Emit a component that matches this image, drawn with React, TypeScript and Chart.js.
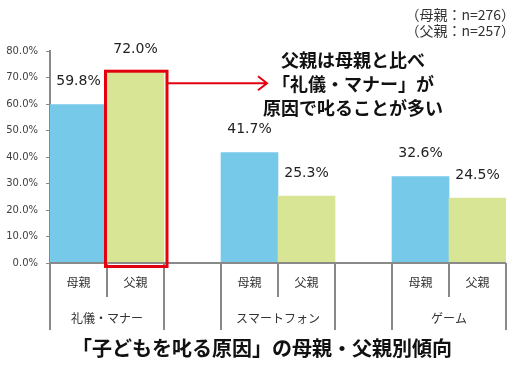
import { useEffect, useRef } from 'react';
import { Chart, registerables } from 'chart.js';

Chart.register(...registerables);

const groups = ['礼儀・マナー', 'スマートフォン', 'ゲーム'];
const seriesNames = ['母親', '父親'];
const motherValues = [59.8, 41.7, 32.6];
const fatherValues = [72.0, 25.3, 24.5];
const yMin = 0;
const yMax = 80;
const yStep = 10;
const sampleNotes = ['（母親：n=276）', '（父親：n=257）'];
const titleText = '「子どもを叱る原因」の母親・父親別傾向';
const calloutLines = ['父親は母親と比べ', '「礼儀・マナー」が', '原因で叱ることが多い'];
const highlightGroup = 0;

const BLUE = '#77C9EA';
const GREEN = '#D7E595';
const RED = '#E3000F';
const AXIS = '#898989';
const JP = '"Noto Sans CJK JP", "Noto Sans", sans-serif';
const NUM = '"DejaVu Sans", sans-serif';

type Slot = { label: string; value: number | null; color: string; group: number; series: number };

function buildSlots(): Slot[] {
  const slots: Slot[] = [];
  groups.forEach((_, g) => {
    slots.push({ label: seriesNames[0], value: motherValues[g], color: BLUE, group: g, series: 0 });
    slots.push({ label: seriesNames[1], value: fatherValues[g], color: GREEN, group: g, series: 1 });
    if (g < groups.length - 1) slots.push({ label: '', value: null, color: 'rgba(0,0,0,0)', group: g, series: -1 });
  });
  return slots;
}

export default function App() {
  const ref = useRef<HTMLCanvasElement | null>(null);

  useEffect(() => {
    if (!ref.current) return;
    const slots = buildSlots();

    const overlay = {
      id: 'overlay',
      afterDraw(chart: any) {
        const ctx = chart.ctx as CanvasRenderingContext2D;
        const x = chart.scales.x;
        const area = chart.chartArea;
        const n = slots.length;
        const slotW = (x.right - x.left) / n;
        const base = area.bottom;
        const meta = chart.getDatasetMeta(0);
        ctx.save();

        // x axis line
        ctx.strokeStyle = AXIS;
        ctx.lineWidth = 2;
        ctx.beginPath();
        ctx.moveTo(area.left - 1, base);
        ctx.lineTo(area.right, base);
        ctx.stroke();

        // category tick lines
        for (let i = 0; i <= n; i++) {
          const xb = Math.round(x.left + i * slotW);
          const prev = slots[i - 1];
          const next = slots[i];
          const short = prev && next && prev.series === 0 && next.series === 1 && prev.group === next.group;
          ctx.beginPath();
          ctx.moveTo(xb, base);
          ctx.lineTo(xb, base + (short ? 34 : 67));
          ctx.stroke();
        }

        // sub labels
        ctx.fillStyle = '#333333';
        ctx.font = `12px ${JP}`;
        ctx.textAlign = 'center';
        ctx.textBaseline = 'middle';
        slots.forEach((s, i) => {
          if (!s.label) return;
          ctx.fillText(s.label, x.left + (i + 0.5) * slotW, base + 19);
        });

        // group labels
        groups.forEach((gname, g) => {
          const start = slots.findIndex((s) => s.group === g && s.series === 0);
          const cx = x.left + (start + 1) * slotW;
          ctx.fillText(gname, cx, base + 55);
        });

        // data labels
        ctx.font = `14px ${NUM}`;
        ctx.fillStyle = '#222222';
        meta.data.forEach((bar: any, i: number) => {
          const s = slots[i];
          if (s.value == null) return;
          ctx.fillText(s.value.toFixed(1) + '%', bar.x, bar.y - 23);
        });

        // highlight rectangle
        const hi = slots.findIndex((s) => s.group === highlightGroup && s.series === 1);
        const hb: any = meta.data[hi];
        const left = hb.x - hb.width / 2 - 1.5;
        const right = hb.x + hb.width / 2 + 3;
        const top = hb.y - 1;
        const bottom = base + 3.5;
        ctx.strokeStyle = RED;
        ctx.lineWidth = 3;
        ctx.strokeRect(left, top, right - left, bottom - top);

        // arrow
        const ay = top + 12;
        const ax2 = right + 100;
        ctx.lineWidth = 2;
        ctx.beginPath();
        ctx.moveTo(right + 1, ay);
        ctx.lineTo(ax2, ay);
        ctx.moveTo(ax2 - 9, ay - 7);
        ctx.lineTo(ax2, ay);
        ctx.lineTo(ax2 - 9, ay + 7);
        ctx.stroke();

        // callout text
        ctx.fillStyle = '#111111';
        ctx.font = `bold 18px ${JP}`;
        const cxText = 353;
        calloutLines.forEach((line, i) => {
          ctx.fillText(line, cxText, 60 + i * 24);
        });

        // sample notes
        ctx.font = `14px ${JP}`;
        ctx.fillStyle = '#333333';
        ctx.textAlign = 'right';
        sampleNotes.forEach((t, i) => {
          ctx.fillText(t, 515, 15 + i * 16);
        });

        // title
        ctx.textAlign = 'center';
        ctx.font = `bold 20px ${JP}`;
        ctx.fillStyle = '#111111';
        ctx.fillText(titleText, 262, 348);

        ctx.restore();
      },
    };

    const chart = new Chart(ref.current, {
      type: 'bar',
      data: {
        labels: slots.map((s) => s.label),
        datasets: [
          {
            data: slots.map((s) => s.value),
            backgroundColor: slots.map((s) => s.color),
            borderWidth: 0,
            categoryPercentage: 1,
            barPercentage: 1,
          },
        ],
      },
      options: {
        responsive: false,
        animation: false,
        devicePixelRatio: 1,
        layout: { padding: { top: 51, right: 8, left: 0, bottom: 0 } },
        plugins: { legend: { display: false }, tooltip: { enabled: false } },
        scales: {
          x: {
            grid: { display: false },
            border: { display: false },
            ticks: { display: false },
            afterFit: (s: any) => {
              s.height = 106;
            },
          },
          y: {
            min: yMin,
            max: yMax,
            grid: { display: true, drawOnChartArea: false, drawTicks: true, tickLength: 4, color: AXIS, lineWidth: 1 },
            border: { display: true, color: AXIS, width: 2 },
            ticks: {
              stepSize: yStep,
              padding: 8,
              color: '#404040',
              font: { family: NUM, size: 10 },
              callback: (v: any) => Number(v).toFixed(1) + '%',
            },
            afterFit: (s: any) => {
              s.width = 50;
            },
          },
        },
      },
      plugins: [overlay],
    });
    return () => chart.destroy();
  }, []);

  return (
    <div style={{ position: 'fixed', left: 0, top: 0, width: 514, height: 369, background: '#fff' }}>
      <canvas ref={ref} width={514} height={369} style={{ width: 514, height: 369 }} />
    </div>
  );
}
